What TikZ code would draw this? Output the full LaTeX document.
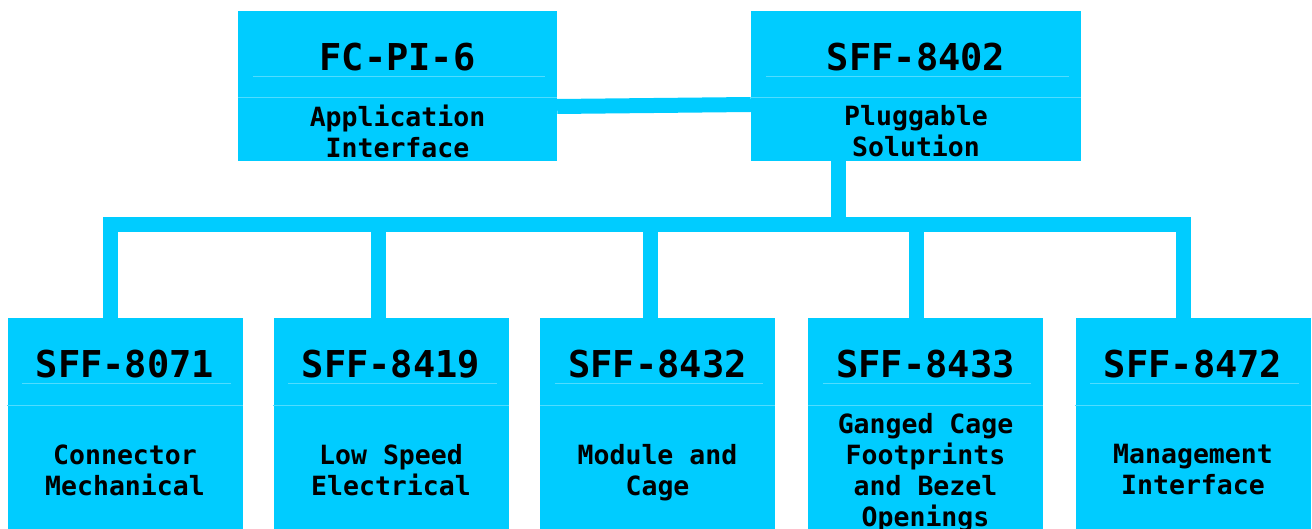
\documentclass[tikz,border=0pt]{standalone}
\usepackage{fontspec}
\setmonofont{DejaVu Sans Mono}
\usetikzlibrary{positioning}
\definecolor{boxcyan}{RGB}{0,204,255}
\definecolor{rulecyan}{RGB}{80,220,255}
\tikzset{
  topbox/.style={fill=boxcyan, inner sep=0pt, minimum height=150pt},
  lowbox/.style={fill=boxcyan, inner sep=0pt, minimum width=235pt, minimum height=211pt},
  title/.style={inner sep=0pt, font=\ttfamily\bfseries\fontsize{37}{40}\selectfont},
  subtitle/.style={inner sep=0pt, text depth=0pt, align=center, font=\ttfamily\bfseries\fontsize{26.5}{31}\selectfont},
  sepline/.style={draw=rulecyan, line width=0.8pt},
  link/.style={draw=boxcyan, line width=15pt}
}
\begin{document}
\begin{tikzpicture}[x=1pt,y=-1pt]
\useasboundingbox (0,0) rectangle (1312,529);
% top row
\node[topbox, minimum width=319pt] (fcpi) at (397.5,86) {};
\node[topbox, minimum width=330pt] (sff8402) at (916,86) {};
\node[title] (fcpiT) at ([yshift=-46pt]fcpi.north) {FC-PI-6};
\node[subtitle] (fcpiS) at ([yshift=-120pt]fcpi.north) {Application\\Interface};
\node[title] (sff8402T) at ([yshift=-46pt]sff8402.north) {SFF-8402};
\node[subtitle] (sff8402S) at ([yshift=-120pt]sff8402.north) {Pluggable\\Solution};
\foreach \n in {fcpi,sff8402} {
  \draw[sepline] ([xshift=15pt,yshift=-66pt]\n.north west) -- ([xshift=-12pt,yshift=-66pt]\n.north east);
  \draw[sepline] ([yshift=-87pt]\n.north west) -- ([yshift=-87pt]\n.north east);
}
% bottom row
\foreach \code/\cx/\shift/\desc in {8071/125/-15/{Connector\\Mechanical},
    8419/391/-13/{Low Speed\\Electrical}, 8432/657.5/-7.5/{Module and\\Cage},
    8433/925.5/-9.5/{Ganged Cage\\Footprints\\and Bezel\\Openings},
    8472/1193/-10/{Management\\Interface}} {
  \node[lowbox] (b\code) at (\cx,423.5) {};
  \node[title] (t\code) at ([yshift=-46pt]b\code.north) {SFF-\code};
  \node[subtitle] (s\code) at ([yshift=-152pt]b\code.north) {\desc};
  \draw[sepline] ([xshift=15pt,yshift=-66pt]b\code.north west) -- ([xshift=-12pt,yshift=-66pt]b\code.north east);
  \draw[sepline] ([yshift=-88pt]b\code.north west) -- ([yshift=-88pt]b\code.north east);
  \coordinate (d\code) at ([xshift=\shift pt]b\code.north);
}
% connectors
\coordinate (bus) at (838,225);
\draw[link] ([yshift=-20.5pt]fcpi.east) -- ([yshift=-18.5pt]sff8402.west);
\draw[link] (bus |- sff8402.south) -- (bus);
\draw[link] (d8071) |- (bus) -| (d8472);
\foreach \code in {8419,8432,8433}
  \draw[link] (d\code) -- (bus -| d\code);
\end{tikzpicture}
\end{document}
